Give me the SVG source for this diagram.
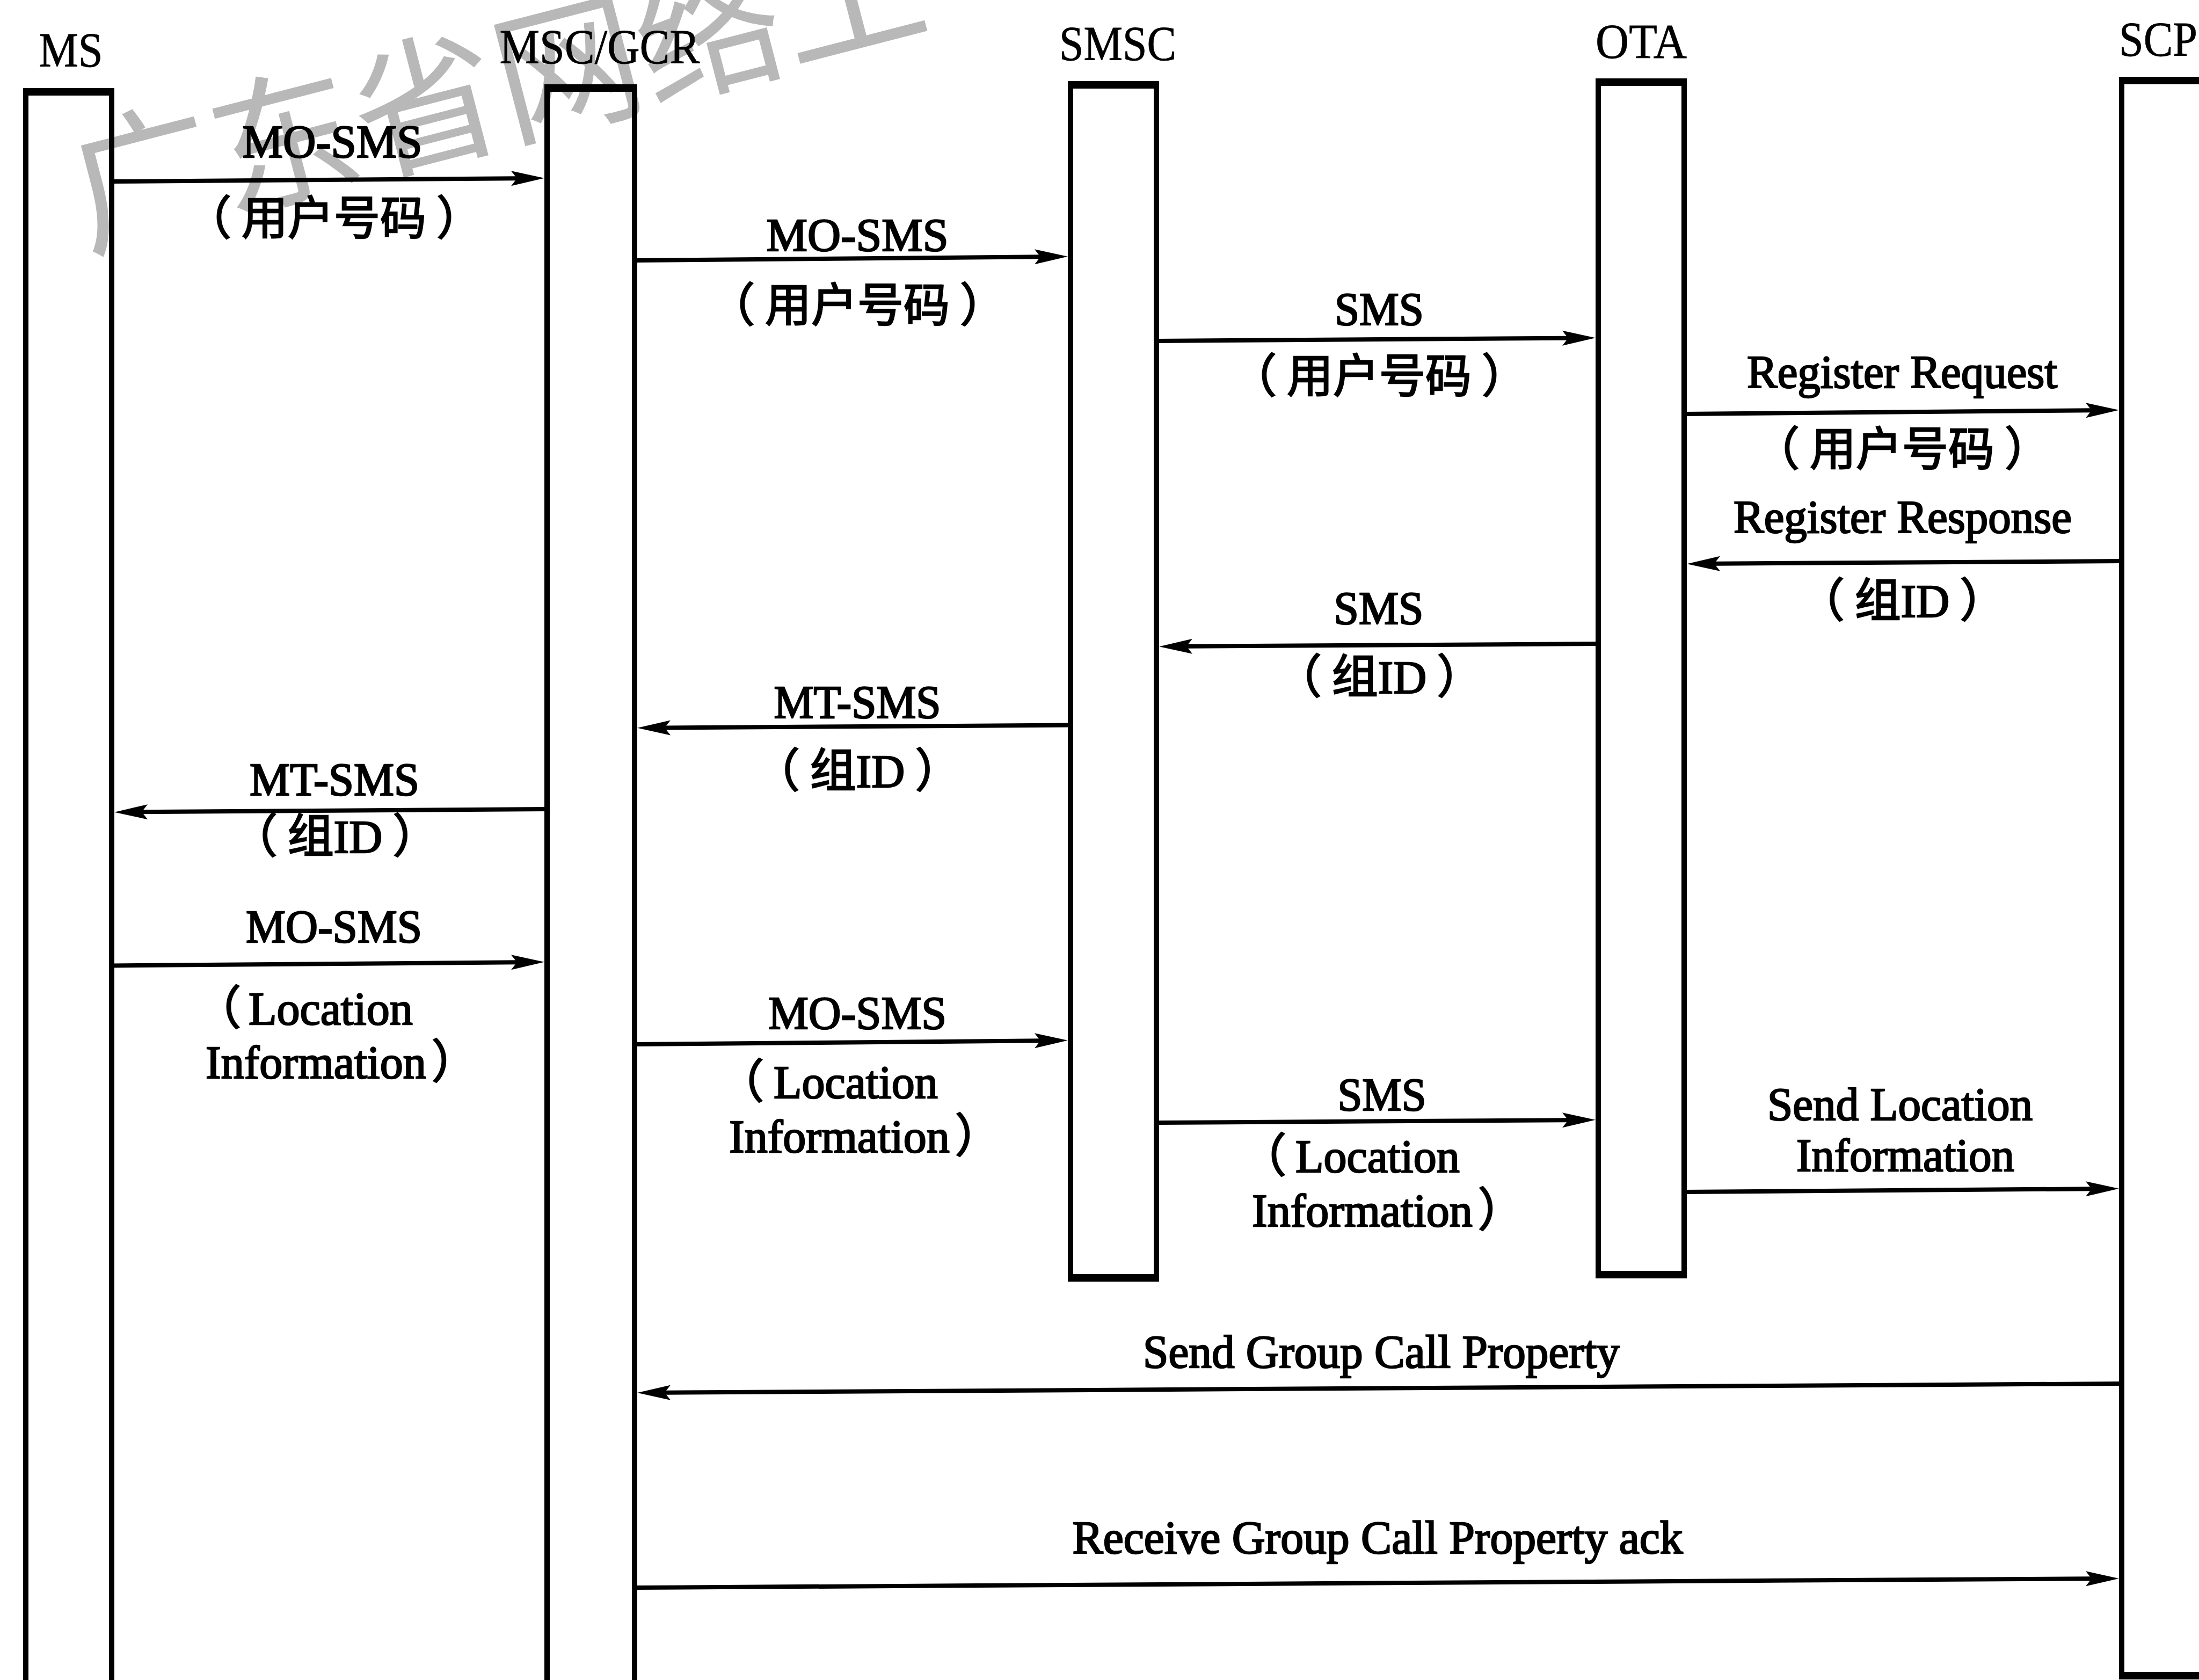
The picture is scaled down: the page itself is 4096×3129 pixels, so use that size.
<svg xmlns="http://www.w3.org/2000/svg" width="4096" height="3129" viewBox="0 0 4096 3129">
<defs>
<style>
.bg{fill:#fff}
.box{fill:none;stroke:#000;stroke-width:10}
.cap{fill:none;stroke:#000;stroke-width:14}
.hdr{font-family:"Liberation Serif","Noto Sans CJK SC",serif;font-size:90px;fill:#000;stroke:#000;stroke-width:0.8}
.lbl{font-family:"Liberation Serif","Noto Sans CJK SC",serif;font-size:86px;fill:#000;stroke:#000;stroke-width:2.5}
.mid{text-anchor:middle}
.wm{font-family:"Noto Sans CJK SC",sans-serif;font-size:272px;fill:#b8b8b8}
.msg{fill:none;stroke:#000;stroke-width:8;marker-end:url(#arrow)}
</style>
<marker id="arrow" markerUnits="userSpaceOnUse" markerWidth="62" markerHeight="28" viewBox="0 0 62 28" refX="42" refY="14" orient="auto" overflow="visible">
<path d="M0,0 L62,14 L0,28 L11,14 Z" fill="#000"/>
</marker>
</defs>
<rect class="bg" x="0" y="0" width="4096" height="3129"/>
<text class="wm" transform="translate(160,462) rotate(-14.5)">广东省网络工</text>

<g id="node-ms">
<rect class="box" x="48" y="171" width="160" height="3050"/>
<line class="cap" x1="43" y1="171" x2="213" y2="171"/>
<text class="hdr mid" x="132" y="124" textLength="119" lengthAdjust="spacingAndGlyphs">MS</text>
</g>
<g id="node-msc">
<rect class="box" x="1019" y="164" width="163" height="3050"/>
<line class="cap" x1="1014" y1="164" x2="1187" y2="164"/>
<text class="hdr mid" x="1117" y="118" textLength="373" lengthAdjust="spacingAndGlyphs">MSC/GCR</text>
</g>
<g id="node-smsc">
<rect class="box" x="1994" y="158" width="160" height="2222"/>
<line class="cap" x1="1989" y1="158" x2="2159" y2="158"/>
<line class="cap" x1="1989" y1="2380" x2="2159" y2="2380"/>
<text class="hdr mid" x="2082" y="112" textLength="218" lengthAdjust="spacingAndGlyphs">SMSC</text>
</g>
<g id="node-ota">
<rect class="box" x="2977" y="153" width="160" height="2221"/>
<line class="cap" x1="2972" y1="153" x2="3142" y2="153"/>
<line class="cap" x1="2972" y1="2374" x2="3142" y2="2374"/>
<text class="hdr mid" x="3057" y="108" textLength="170" lengthAdjust="spacingAndGlyphs">OTA</text>
</g>
<g id="node-scp">
<rect class="box" x="3952" y="150" width="160" height="2971"/>
<line class="cap" x1="3947" y1="150" x2="4117" y2="150"/>
<line class="cap" x1="3947" y1="3121" x2="4117" y2="3121"/>
<text class="hdr" x="3947" y="104" textLength="146" lengthAdjust="spacingAndGlyphs">SCP</text>
</g>

<g id="connectors">
<path class="msg" d="M208,338 L994,332"/>
<path class="msg" d="M1182,485 L1969,478"/>
<path class="msg" d="M2154,635 L2952,629.5"/>
<path class="msg" d="M3137,771 L3927,764"/>
<path class="msg" d="M3952,1045 L3162,1050"/>
<path class="msg" d="M2977,1199 L2179,1204"/>
<path class="msg" d="M1994,1350.5 L1207,1355.7"/>
<path class="msg" d="M1019,1507 L233,1512.5"/>
<path class="msg" d="M208,1798.5 L994,1792"/>
<path class="msg" d="M1182,1945 L1969,1938"/>
<path class="msg" d="M2154,2091 L2952,2086"/>
<path class="msg" d="M3137,2220 L3927,2214"/>
<path class="msg" d="M3952,2577 L1207,2594"/>
<path class="msg" d="M1182,2957 L3927,2940"/>
</g>

<g id="labels">
<text class="lbl mid" x="619" y="293" textLength="335" lengthAdjust="spacingAndGlyphs">MO-SMS</text>
<text class="lbl mid" x="622" y="437">（<tspan dx="19">用户号码</tspan><tspan dx="19">）</tspan></text>
<text class="lbl mid" x="1597" y="467" textLength="339" lengthAdjust="spacingAndGlyphs">MO-SMS</text>
<text class="lbl mid" x="1597" y="599">（<tspan dx="19">用户号码</tspan><tspan dx="19">）</tspan></text>
<text class="lbl mid" x="2569" y="605" textLength="166" lengthAdjust="spacingAndGlyphs">SMS</text>
<text class="lbl mid" x="2569" y="731">（<tspan dx="19">用户号码</tspan><tspan dx="19">）</tspan></text>
<text class="lbl mid" x="3543" y="722" textLength="578" lengthAdjust="spacingAndGlyphs">Register Request</text>
<text class="lbl mid" x="3543" y="867">（<tspan dx="19">用户号码</tspan><tspan dx="19">）</tspan></text>
<text class="lbl mid" x="3544" y="992" textLength="630" lengthAdjust="spacingAndGlyphs">Register Response</text>
<text class="lbl mid" x="3543" y="1149">（<tspan dx="19">组ID</tspan><tspan dx="19">）</tspan></text>
<text class="lbl mid" x="2568" y="1162" textLength="167" lengthAdjust="spacingAndGlyphs">SMS</text>
<text class="lbl mid" x="2569" y="1291">（<tspan dx="19">组ID</tspan><tspan dx="19">）</tspan></text>
<text class="lbl mid" x="1597" y="1337" textLength="311" lengthAdjust="spacingAndGlyphs">MT-SMS</text>
<text class="lbl mid" x="1597" y="1466">（<tspan dx="19">组ID</tspan><tspan dx="19">）</tspan></text>
<text class="lbl mid" x="623" y="1481" textLength="316" lengthAdjust="spacingAndGlyphs">MT-SMS</text>
<text class="lbl mid" x="624" y="1588">（<tspan dx="19">组ID</tspan><tspan dx="19">）</tspan></text>
<text class="lbl mid" x="622" y="1755" textLength="328" lengthAdjust="spacingAndGlyphs">MO-SMS</text>
<text class="lbl" x="363" y="1908">（<tspan dx="14">Location</tspan></text>
<text class="lbl" x="383" y="2008">Information<tspan dx="10">）</tspan></text>
<text class="lbl mid" x="1597" y="1916" textLength="332" lengthAdjust="spacingAndGlyphs">MO-SMS</text>
<text class="lbl" x="1337" y="2045">（<tspan dx="18">Location</tspan></text>
<text class="lbl" x="1358" y="2146">Information<tspan dx="10">）</tspan></text>
<text class="lbl mid" x="2574" y="2068" textLength="165" lengthAdjust="spacingAndGlyphs">SMS</text>
<text class="lbl" x="2310" y="2183">（<tspan dx="17">Location</tspan></text>
<text class="lbl" x="2332" y="2284">Information<tspan dx="10">）</tspan></text>
<text class="lbl mid" x="3539" y="2086" textLength="494" lengthAdjust="spacingAndGlyphs">Send Location</text>
<text class="lbl mid" x="3549" y="2181" textLength="406" lengthAdjust="spacingAndGlyphs">Information</text>
<text class="lbl mid" x="2573" y="2547" textLength="888" lengthAdjust="spacingAndGlyphs">Send Group Call Property</text>
<text class="lbl mid" x="2566" y="2893" textLength="1137" lengthAdjust="spacingAndGlyphs">Receive Group Call Property ack</text>
</g>
</svg>
